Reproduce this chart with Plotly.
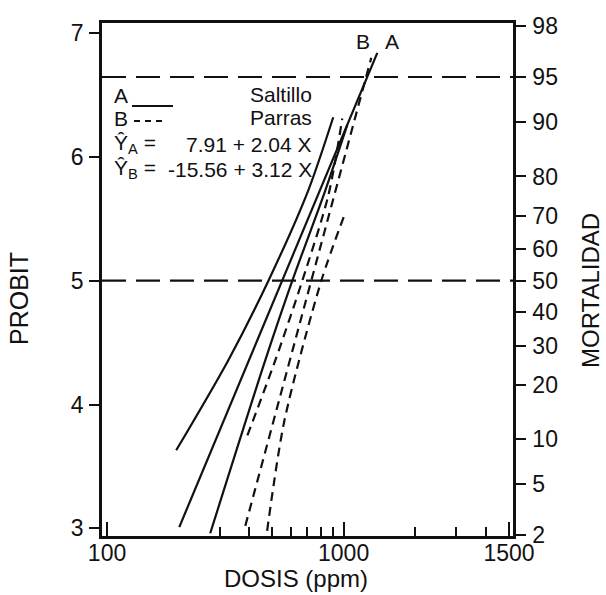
import math
from statistics import NormalDist
import plotly.graph_objects as go

# ---------------- data ----------------
# Saltillo (A, solid): regression line and its two limit curves
A_line_dose = [202, 1388]
A_line_probit = [3.01, 6.84]
A_lower_dose = [196, 326, 481, 709, 904]
A_lower_probit = [3.63, 4.36, 5.00, 5.73, 6.32]
A_upper_dose = [273, 467, 607, 837, 1037]
A_upper_probit = [2.96, 4.36, 5.00, 5.73, 6.26]

# Parras (B, dashed): regression line and its two limit curves
B_line_dose = [384, 1309]
B_line_probit = [3.02, 6.80]
B_lower_dose = [392, 515, 669, 862, 987]
B_lower_probit = [3.75, 4.36, 5.00, 5.69, 6.31]
B_upper_dose = [475, 562, 805, 1017]
B_upper_probit = [2.98, 3.87, 5.00, 5.55]

# axes
probit_ticks = [3, 4, 5, 6, 7]
mortality_ticks = [2, 5, 10, 20, 30, 40, 50, 60, 70, 80, 90, 95, 98]
reference_mortality = [50, 95]
dose_tick_vals = [100, 1000, 5000]
dose_tick_text = ["100", "1000", "1500"]
dose_minor_ticks = [300, 400, 500, 600, 700, 800, 900, 2000, 3000, 4000]

# text
eq_A = "7.91 + 2.04 X"
eq_B = "-15.56 + 3.12 X"

# ---------------- figure ----------------
def probit(pct):
    return NormalDist().inv_cdf(pct / 100.0) + 5

FONT = "Liberation Sans, Arial, Helvetica, sans-serif"
INK = "#111111"
X_RANGE = [math.log10(95.2), math.log10(5200)]
Y_RANGE = [2.938, 7.081]

fig = go.Figure()

solid = dict(color=INK, width=2.2)
dashed = dict(color=INK, width=2.2, dash="9px,6px")

fig.add_trace(go.Scatter(x=A_lower_dose, y=A_lower_probit, mode="lines",
                         line=dict(**solid, shape="spline", smoothing=0.8)))
fig.add_trace(go.Scatter(x=A_line_dose, y=A_line_probit, mode="lines", line=solid))
fig.add_trace(go.Scatter(x=A_upper_dose, y=A_upper_probit, mode="lines",
                         line=dict(**solid, shape="spline", smoothing=0.8)))
fig.add_trace(go.Scatter(x=B_lower_dose, y=B_lower_probit, mode="lines",
                         line=dict(**dashed, shape="spline", smoothing=0.8)))
fig.add_trace(go.Scatter(x=B_line_dose, y=B_line_probit, mode="lines", line=dashed))
fig.add_trace(go.Scatter(x=B_upper_dose, y=B_upper_probit, mode="lines",
                         line=dict(**dashed, shape="spline", smoothing=0.8)))
# carrier for the mortality axis
fig.add_trace(go.Scatter(x=[A_line_dose[0]], y=[A_line_probit[0]], yaxis="y2",
                         mode="markers", marker=dict(opacity=0), hoverinfo="skip"))

# reference lines at 50 % and 95 % mortality
for m in reference_mortality:
    fig.add_shape(type="line", xref="paper", x0=0, x1=1, yref="y",
                  y0=probit(m), y1=probit(m),
                  line=dict(color=INK, width=2.2, dash="24px,10px"))

# plot box: l=102, r=513, t=23, b=536 (px)
PL, PR, PT, PB = 102, 513, 23, 536
def px(xp):
    return (xp - PL) / (PR - PL)
def py(yp):
    return (PB - yp) / (PB - PT)

# legend key lines
fig.add_shape(type="line", xref="paper", yref="paper", x0=px(132), x1=px(173),
              y0=py(106), y1=py(106), line=dict(color=INK, width=1.8))
fig.add_shape(type="line", xref="paper", yref="paper", x0=px(134), x1=px(165),
              y0=py(121), y1=py(121), line=dict(color=INK, width=1.8, dash="6px,5px"))

def note(text, x, y, xa="center", size=21, angle=0):
    fig.add_annotation(text=text, xref="paper", yref="paper", x=px(x), y=py(y),
                       xanchor=xa, yanchor="middle", showarrow=False,
                       textangle=angle, font=dict(family=FONT, size=size, color=INK))

note("A", 112, 95, "left")
note("B", 112, 118, "left")
note("Saltillo", 314, 94, "right")
note("Parras", 314, 117, "right")
note("Ŷ<sub>A</sub> =", 112, 144, "left")
note("Ŷ<sub>B</sub> =", 112, 169, "left")
note(eq_A, 314, 144, "right")
note(eq_B, 314, 169, "right")
note("B", 363, 41)
note("A", 392, 41)
note("PROBIT", 19, 299, size=25, angle=-90)
note("MORTALIDAD", 590, 291, size=24, angle=-90)
note("DOSIS (ppm)", 296, 578, size=24)

axis_common = dict(showgrid=False, zeroline=False, showline=True, linecolor=INK,
                   linewidth=2.5, tickcolor=INK, tickwidth=2,
                   tickfont=dict(family=FONT, size=23, color=INK))

fig.update_layout(
    width=606, height=595,
    margin=dict(l=PL, r=606 - PR, t=PT, b=595 - PB, autoexpand=False),
    paper_bgcolor="white", plot_bgcolor="white", showlegend=False,
    font=dict(family=FONT, size=22, color=INK),
    xaxis=dict(type="log", range=X_RANGE, tickvals=dose_tick_vals, ticktext=dose_tick_text,
               ticks="inside", ticklen=14, mirror=True, ticklabelstandoff=-5,
               minor=dict(tickvals=dose_minor_ticks, ticks="inside", ticklen=9,
                          tickwidth=2, tickcolor=INK, showgrid=False),
               **axis_common),
    yaxis=dict(range=Y_RANGE, tickvals=probit_ticks, ticks="outside", ticklen=10,
               mirror=True, ticklabelstandoff=1, **axis_common),
    yaxis2=dict(range=Y_RANGE, overlaying="y", side="right",
                tickvals=[probit(m) for m in mortality_ticks],
                ticktext=[str(m) for m in mortality_ticks],
                ticks="outside", ticklen=10, ticklabelstandoff=2, **axis_common),
)

fig.write_html("out.html",
               config={"displayModeBar": False},
               post_script="document.body.style.margin='0px';document.body.style.overflow='hidden';")
